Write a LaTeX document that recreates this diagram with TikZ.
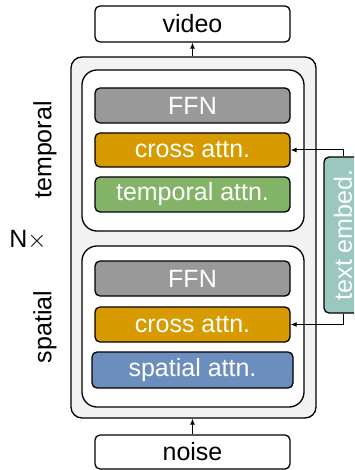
\documentclass[tikz,border=0pt]{standalone}
\usepackage{fontspec}
\setmainfont{Liberation Sans}
\usetikzlibrary{arrows.meta}
\definecolor{ffngray}{HTML}{999999}
\definecolor{crossor}{HTML}{D79B00}
\definecolor{tgreen}{HTML}{82B366}
\definecolor{sblue}{HTML}{6C8EBF}
\definecolor{teal2}{HTML}{9AC7BF}
\definecolor{outerbg}{HTML}{F2F2F4}
\begin{document}
\begin{tikzpicture}[x=1bp,y=-1bp,
  font=\fontsize{25bp}{30bp}\selectfont,
  blk/.style={draw=black, line width=1.3bp, rounded corners=5bp, inner sep=0pt,
    minimum width=195bp, minimum height=35bp},
  wblk/.style={blk, text=white},
  cont/.style={draw=black, line width=1.3bp, rounded corners=15bp, fill=white,
    minimum width=222bp, minimum height=161bp, inner sep=0pt},
  arr/.style={line width=1bp, -{Latex[length=6bp,width=5bp]}},
]
\useasboundingbox (0,0) rectangle (354,470);
\clip (0,0) rectangle (354,470);
% outer container
\node[draw=black, line width=1.3bp, rounded corners=11bp, fill=outerbg,
  minimum width=245bp, minimum height=361bp, inner sep=0pt] (outer) at (193.5,237.5) {};
\node[cont] (tbox) at (193,150.5) {};
\node[cont] (sbox) at (193,326.5) {};
% temporal block
\node[wblk, fill=ffngray] (ffn1) at (192.5,105.5) {FFN};
\node[wblk, fill=crossor, minimum height=34bp] (cross1) at (192.5,150) {cross attn.};
\node[wblk, fill=tgreen] (tattn) at (192.5,194.5) {temporal attn.};
% spatial block
\node[wblk, fill=ffngray] (ffn2) at (192.5,278.5) {FFN};
\node[wblk, fill=crossor] (cross2) at (192.5,324.5) {cross attn.};
\node[wblk, fill=sblue, minimum width=201bp, minimum height=36bp] (sattn) at (192.5,370) {spatial attn.};
% input / output
\node[blk, fill=white, minimum height=36bp] (video) at (192.5,24) {video};
\node[blk, fill=white, minimum height=34bp] (noise) at (192.5,452) {noise};
% text embed
\node[draw=black, line width=1.3bp, rounded corners=5bp, fill=teal2, text=white,
  minimum width=156bp, minimum height=38bp, inner sep=0pt, rotate=90] (temb) at (343,235) {text embed.};
% labels
\node[rotate=90] (ltemp) at (45,150) {temporal};
\node[rotate=90] (lspat) at (45,327) {spatial};
\node (lN) at (28,240) {N$\times$};
% arrows
\draw[arr] (noise.north) -- (noise.north |- outer.south);
\draw[arr] (video.south |- outer.north) -- (video.south);
\draw[arr] (temb.east) |- (cross1.east);
\draw[arr] (temb.west) |- (cross2.east);
\end{tikzpicture}
\end{document}
